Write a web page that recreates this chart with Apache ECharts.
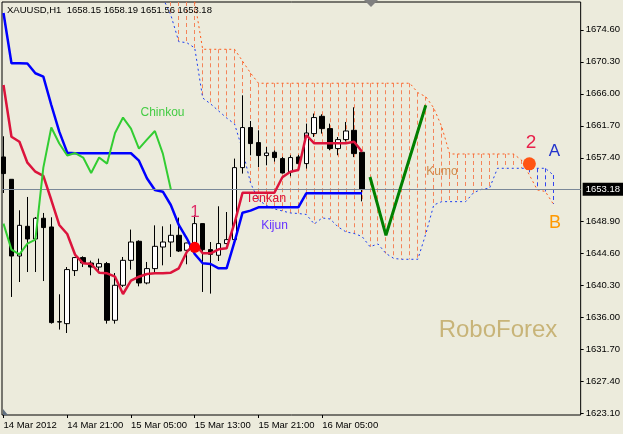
<!DOCTYPE html>
<html><head><meta charset="utf-8">
<script src="https://cdn.jsdelivr.net/npm/echarts@6/dist/echarts.min.js"></script>
<style>html,body{margin:0;padding:0;background:#ecebdc;}#c{width:623px;height:434px;}</style>
</head><body><div id="c"></div>
<script>
// ---- data (hourly bars, index 0 = 14 Mar 2012 13:00) ----
const openP  = [1657.52,1654.52,1644.22,1648.21,1646.51,1649.29,1648.12,1635.40,1635.14,1642.26,1644.01,1643.28,1642.74,1643.20,1635.59,1640.29,1643.64,1646.20,1640.60,1642.53,1645.43,1646.10,1647.00,1644.99,1645.97,1648.57,1645.08,1644.32,1645.89,1646.42,1656.09,1661.47,1659.45,1657.71,1658.15,1657.30,1655.50,1657.52,1656.63,1660.66,1662.98,1661.33,1658.65,1659.85,1661.10,1658.15];
const highP  = [1660.30,1654.52,1650.36,1652.15,1649.46,1650.00,1649.42,1639.08,1642.74,1644.09,1644.18,1643.60,1643.87,1643.42,1641.94,1644.09,1647.77,1646.33,1643.42,1648.34,1648.21,1648.48,1649.38,1646.00,1649.69,1648.60,1646.10,1650.90,1650.13,1657.30,1665.80,1662.35,1661.10,1658.86,1658.40,1657.52,1657.75,1657.80,1662.00,1663.35,1663.25,1662.00,1660.20,1662.22,1664.19,1658.19];
const lowP   = [1652.68,1638.72,1640.73,1642.07,1642.07,1640.86,1635.14,1634.34,1633.88,1641.54,1642.74,1641.63,1642.07,1635.14,1635.14,1640.06,1642.40,1640.15,1640.42,1641.86,1642.97,1644.09,1644.76,1643.11,1645.50,1639.39,1639.17,1643.55,1645.80,1646.30,1655.29,1657.75,1656.17,1656.40,1656.90,1655.29,1654.93,1656.50,1655.96,1660.20,1660.66,1658.42,1657.75,1659.60,1657.50,1651.56];
const closeP = [1655.29,1644.22,1648.34,1646.51,1649.29,1648.04,1635.28,1635.36,1642.40,1644.01,1643.28,1642.74,1643.20,1635.59,1640.29,1643.64,1646.10,1640.60,1642.53,1645.52,1646.10,1647.00,1644.89,1645.97,1648.57,1645.08,1644.45,1645.89,1646.42,1656.09,1661.47,1659.32,1657.71,1658.05,1657.44,1655.37,1657.44,1656.63,1660.74,1662.81,1661.33,1658.65,1659.85,1661.01,1657.97,1653.18];
const tenkan = [1667.19,1660.24,1659.57,1656.75,1655.54,1654.97,1651.74,1648.39,1647.18,1644.36,1643.24,1643.15,1641.98,1641.90,1641.44,1639.12,1640.91,1641.44,1641.81,1641.90,1641.90,1641.98,1642.57,1644.76,1645.93,1644.59,1644.59,1645.12,1645.26,1648.66,1652.72,1652.72,1652.72,1652.72,1652.72,1654.79,1655.54,1655.77,1660.47,1659.36,1659.36,1659.36,1659.36,1659.36,1659.57,1658.23];
const kijun  = [1676.86,1670.10,1670.10,1670.07,1668.76,1668.30,1664.50,1660.92,1658.10,1658.02,1658.02,1658.02,1658.02,1658.02,1658.02,1658.02,1658.02,1657.02,1654.66,1653.09,1652.86,1651.07,1648.39,1646.60,1644.49,1643.24,1643.15,1642.57,1642.57,1646.14,1650.04,1650.31,1650.76,1650.76,1650.76,1650.76,1650.76,1650.76,1652.64,1652.64,1652.64,1652.64,1652.64,1652.64,1652.64,1652.64];
const chinkouShift = 24;
const spanStart = 19;
const spanA = [1681.29,1678.87,1676.59,1673.00,1672.87,1672.16,1665.44,1664.64,1663.70,1662.76,1661.95,1658.46,1654.03,1651.74,1651.01,1650.54,1650.27,1650.00,1649.93,1649.80,1648.52,1649.33,1649.19,1648.12,1647.45,1647.25,1646.84,1645.47,1645.84,1644.56,1643.89,1643.78,1643.78,1643.78,1647.18,1651.07,1651.52,1651.52,1651.52,1651.52,1652.72,1653.18,1653.32,1656.00,1656.00,1656.00,1656.00,1656.00,1656.00,1656.00,1655.10];
const spanB = [1686.00,1685.00,1684.00,1682.50,1680.50,1678.40,1671.98,1671.98,1671.98,1671.98,1671.98,1670.40,1668.80,1667.42,1667.42,1667.42,1667.42,1667.42,1667.42,1667.42,1667.42,1667.42,1667.42,1667.42,1667.42,1667.42,1667.42,1667.42,1667.42,1667.42,1667.42,1667.42,1667.42,1666.15,1665.62,1664.10,1661.59,1657.92,1657.92,1657.92,1657.92,1657.92,1657.92,1657.92,1657.92,1657.92,1657.12,1655.10,1653.09,1652.89,1651.21];
const forecastIdx = [46, 48, 53];
const forecastVal = [1654.83, 1647.00, 1664.46];
const crossIdx = [24, 66];
const crossVal = [1645.39, 1656.60];
const xTickIdx = [0, 8, 16, 24, 32, 40];
const xTickLabels = ['14 Mar 2012','14 Mar 21:00','15 Mar 05:00','15 Mar 13:00','15 Mar 21:00','16 Mar 05:00'];
const yTickLabels = ['1623.10','1627.40','1631.70','1636.00','1640.30','1644.60','1648.90','1657.40','1661.70','1666.00','1670.30','1674.60'];
const lastPrice = 1653.18;
const titleText = 'XAUUSD,H1  1658.15 1658.19 1651.56 1653.18';

// ---- build ----
const FONT = '"Liberation Sans", Arial, sans-serif';
const candles = openP.map((o, i) => [i, o, closeP[i], lowP[i], highP[i]]);
const line = arr => arr.map((v, i) => [i, v]);
const chinkou = closeP.slice(chinkouShift).map((v, i) => [i, v]);
const spanAData = spanA.map((v, i) => [spanStart + i, v]);
const spanBData = spanB.map((v, i) => [spanStart + i, v]);
const hatch = spanA.map((v, i) => [spanStart + i, v, spanB[i]]);
const forecast = forecastIdx.map((x, i) => [x, forecastVal[i]]);

const chart = echarts.init(document.getElementById('c'), null, {renderer: 'canvas'});
function txt(x, y, text, color, size, align) {
  return {type: 'text', x: x, y: y, z: 100, silent: true,
    style: {text: text, fill: color, font: size + 'px ' + FONT,
      align: align || 'center', verticalAlign: 'middle',
      textAlign: align || 'center', textVerticalAlign: 'middle'}};
}
chart.setOption({
  animation: false,
  backgroundColor: '#ecebdc',
  grid: {left: 2, top: 2, width: 581, height: 413, show: true, borderColor: '#000', borderWidth: 1, backgroundColor: 'transparent'},
  xAxis: {
    type: 'value', min: -0.1875, max: 72.4375,
    axisLine: {show: false, onZero: false}, splitLine: {show: false},
    axisTick: {show: true, inside: false, length: 3, lineStyle: {color: '#000'}, customValues: xTickIdx},
    axisLabel: {customValues: xTickIdx, align: 'left', margin: 5, color: '#000', fontSize: 9.5, fontFamily: FONT,
      formatter: v => { const k = xTickIdx.indexOf(Math.round(v)); return k >= 0 ? xTickLabels[k] : ''; }}
  },
  yAxis: {
    type: 'value', min: 1622.87, max: 1678.33, position: 'right',
    axisLine: {show: false, onZero: false}, splitLine: {show: false},
    axisTick: {show: true, inside: false, length: 3, lineStyle: {color: '#000'}, customValues: yTickLabels.map(Number)},
    axisLabel: {customValues: yTickLabels.map(Number), margin: 5, color: '#000', fontSize: 9.5, fontFamily: FONT,
      formatter: v => v.toFixed(2)}
  },
  graphic: [
    txt(7, 10, titleText, '#000', 9.5, 'left'),
    txt(162.5, 112.5, 'Chinkou', '#44cc44', 12),
    txt(266, 198.5, 'Tenkan', '#dc143c', 12.5),
    txt(274.5, 225.5, 'Kijun', '#6633ff', 12),
    txt(195, 212, '1', '#e0306a', 17),
    txt(531, 143, '2', '#e8204a', 19),
    txt(554.5, 151, 'A', '#2233cc', 17),
    txt(555, 223.5, 'B', '#ff9900', 18),
    txt(442, 172, 'Kumo', '#d08a4a', 12),
    txt(498, 330, 'RoboForex', '#c8b478', 24),
    {type: 'polygon', z: 100, silent: true, shape: {points: [[364, 0], [378, 0], [371, 7]]}, style: {fill: '#808080'}},
    {type: 'polygon', z: 100, silent: true, shape: {points: [[3, 409], [3, 415], [8, 415]]}, style: {fill: '#607080'}}
  ],
  series: [
    {
      type: 'custom', name: 'hatch', z: 1, data: hatch, encode: {x: 0, y: [1, 2]},
      renderItem: function (params, api) {
        const i = api.value(0), a = api.value(1), b = api.value(2);
        const p1 = api.coord([i, a]), p2 = api.coord([i, b]);
        const cs = params.coordSys;
        const clamp = y => Math.max(cs.y, Math.min(cs.y + cs.height, y));
        const y1 = clamp(p1[1]), y2 = clamp(p2[1]);
        if (Math.abs(y1 - y2) < 0.5) return null;
        const x = Math.floor(p1[0]) + 0.5;
        return {type: 'line', shape: {x1: x, y1: Math.min(y1, y2), x2: x, y2: Math.max(y1, y2)},
          style: {stroke: a > b ? '#3344ee' : '#f4845a', lineWidth: 1, lineDash: [4, 3]}};
      }
    },
    {type: 'line', name: 'spanA', z: 2, data: spanAData, showSymbol: false, lineStyle: {color: '#1a3cf0', width: 1, type: [2, 3]}},
    {type: 'line', name: 'spanB', z: 2, data: spanBData, showSymbol: false, lineStyle: {color: '#ff5a1a', width: 1, type: [2, 3]}},
    {
      type: 'candlestick', name: 'XAUUSD', z: 3, data: candles, encode: {x: 0, y: [1, 2, 3, 4]}, barWidth: 5,
      itemStyle: {color: '#ffffff', color0: '#000000', borderColor: '#000000', borderColor0: '#000000', borderWidth: 1},
      markLine: {
        symbol: 'none', silent: true, animation: false,
        data: [{yAxis: lastPrice}],
        lineStyle: {color: '#7a8898', width: 1, type: 'solid'},
        label: {show: true, position: 'end', distance: 2, formatter: lastPrice.toFixed(2), color: '#fff', backgroundColor: '#000',
          padding: [2, 3, 1, 3], fontSize: 9.5, fontFamily: FONT}
      }
    },
    {type: 'line', name: 'Kijun', z: 4, data: line(kijun), showSymbol: false, lineStyle: {color: '#0000ff', width: 2.5}},
    {type: 'line', name: 'Tenkan', z: 5, data: line(tenkan), showSymbol: false, lineStyle: {color: '#dc143c', width: 2.5}},
    {type: 'line', name: 'Chinkou', z: 5, data: chinkou, showSymbol: false, lineStyle: {color: '#32cd32', width: 2}},
    {type: 'line', name: 'forecast', z: 6, data: forecast, showSymbol: false, lineStyle: {color: '#008000', width: 3}},
    {type: 'scatter', name: 'cross1', z: 7, data: [[crossIdx[0], crossVal[0]]], symbolSize: 11, itemStyle: {color: '#ff0000', opacity: 1}},
    {type: 'scatter', name: 'cross2', z: 7, data: [[crossIdx[1], crossVal[1]]], symbolSize: 13, itemStyle: {color: '#ff5514', opacity: 1}}
  ]
});
</script></body></html>
